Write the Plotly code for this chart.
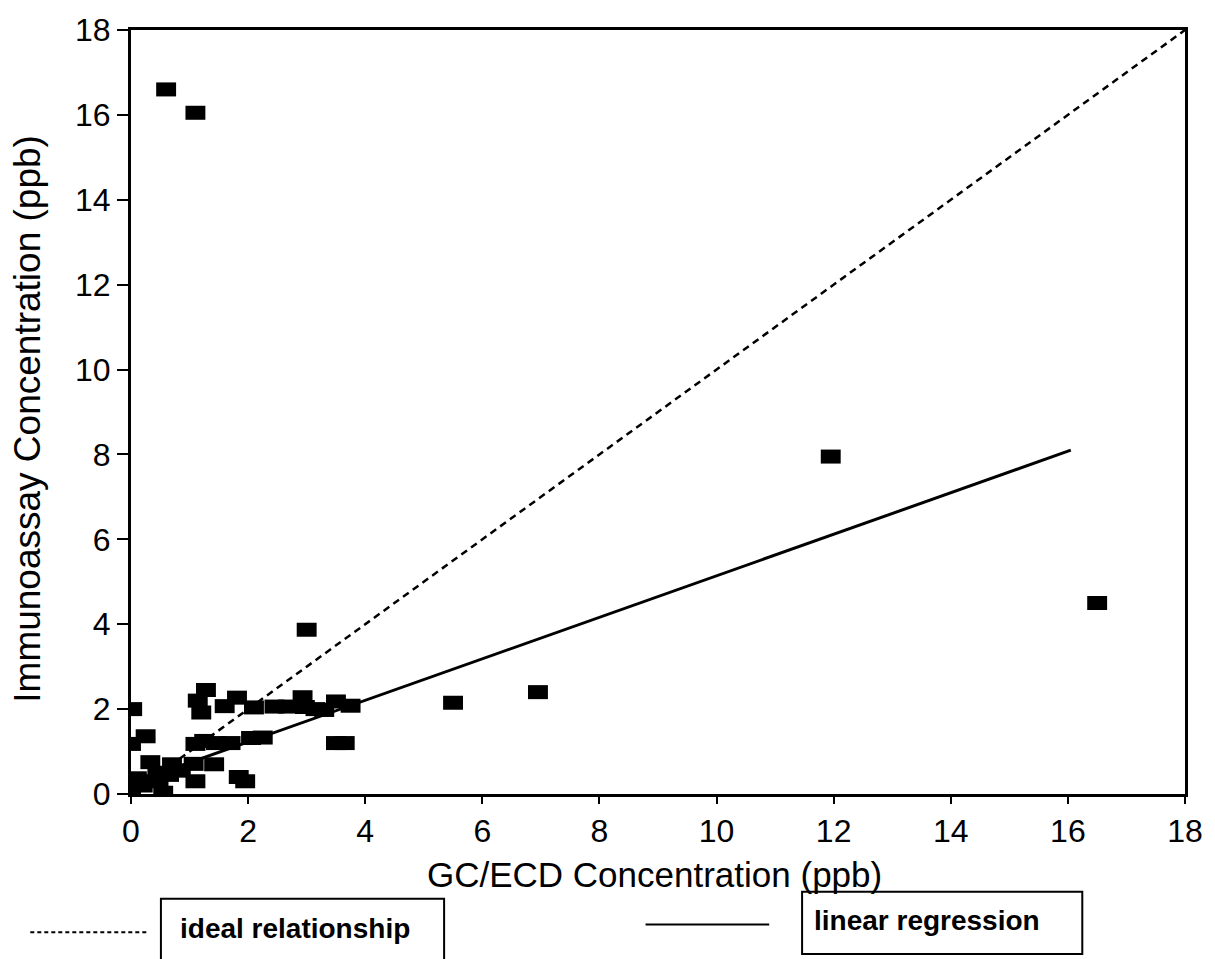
import plotly.graph_objects as go

# GC/ECD vs immunoassay concentrations (ppb)
gc_ecd = [0.02, 0.25, 0.0, 0.0, 0.1, 0.2, 0.3, 0.45, 0.55, 0.47, 0.65, 0.33, 0.7, 1.07, 1.42,
          0.85, 1.1, 1.84, 1.95, 1.1, 1.25, 1.45, 1.7, 2.05, 2.25, 1.28, 1.14, 1.2, 1.6, 1.81,
          2.1, 2.45, 2.68, 2.93, 2.97, 3.15, 3.3, 3.5, 3.75, 3.5, 3.65, 3.0, 5.5, 6.95, 11.95,
          16.5, 0.6, 1.1]
immuno = [2.0, 1.36, 1.18, 0.06, 0.37, 0.2, 0.3, 0.5, 0.03, 0.33, 0.45, 0.75, 0.7, 0.71, 0.7,
          0.55, 0.3, 0.4, 0.3, 1.18, 1.25, 1.2, 1.2, 1.32, 1.33, 2.45, 2.2, 1.92, 2.07, 2.27,
          2.04, 2.06, 2.06, 2.28, 2.05, 2.0, 1.98, 2.18, 2.08, 1.2, 1.2, 3.87, 2.15, 2.4, 7.95,
          4.5, 16.6, 16.05]

# reference lines
ideal_x = [0, 18]
ideal_y = [0, 18]
reg_x = [0.0, 16.05]
reg_y = [0.25, 8.1]

x_ticks = list(range(0, 19, 2))
y_ticks = list(range(0, 19, 2))

# marker half-size in data units (rectangular blocks)
HW = 0.17
HH = 0.165

FONT = "Liberation Sans, Arial, Helvetica, sans-serif"

W, H = 1215, 959
ML, MR, MT, MB = 131, 27, 21, 165
PW, PH = W - ML - MR, H - MT - MB


def px(x):
    return (x - ML) / PW


def py(y):
    return (H - MB - y) / PH


fig = go.Figure()
fig.add_trace(go.Scatter(x=ideal_x, y=ideal_y, mode="lines",
                         line=dict(color="black", width=2.5, dash="7px,5px"),
                         showlegend=False, hoverinfo="skip"))
fig.add_trace(go.Scatter(x=reg_x, y=reg_y, mode="lines",
                         line=dict(color="black", width=3),
                         showlegend=False, hoverinfo="skip"))
fig.add_trace(go.Scatter(x=gc_ecd, y=immuno, mode="markers",
                         marker=dict(color="rgba(0,0,0,0)", size=1),
                         showlegend=False))

shapes = []
for xv, yv in zip(gc_ecd, immuno):
    shapes.append(dict(type="rect", xref="x", yref="y",
                       x0=xv - HW, x1=xv + HW, y0=yv - HH, y1=yv + HH,
                       fillcolor="black", line=dict(width=0), layer="above"))

# legend drawn below the plot
shapes += [
    dict(type="line", xref="paper", yref="paper", x0=px(30), x1=px(148), y0=py(934), y1=py(934),
         line=dict(color="black", width=2, dash="4px,3px")),
    dict(type="rect", xref="paper", yref="paper", x0=px(161), x1=px(445), y0=py(975), y1=py(900),
         line=dict(color="black", width=2), fillcolor="white"),
    dict(type="line", xref="paper", yref="paper", x0=px(647), x1=px(771), y0=py(926), y1=py(926),
         line=dict(color="black", width=2)),
    dict(type="rect", xref="paper", yref="paper", x0=px(804), x1=px(1085), y0=py(956), y1=py(893),
         line=dict(color="black", width=2), fillcolor="white"),
]

annotations = [
    dict(text="<b>ideal relationship</b>", xref="paper", yref="paper", x=px(178), y=py(930),
         xanchor="left", yanchor="middle", showarrow=False,
         font=dict(family=FONT, size=28, color="black")),
    dict(text="<b>linear regression</b>", xref="paper", yref="paper", x=px(814), y=py(922),
         xanchor="left", yanchor="middle", showarrow=False,
         font=dict(family=FONT, size=28, color="black")),
    # axis titles
    dict(text="GC/ECD Concentration (ppb)", xref="paper", yref="paper", x=px(656), y=py(875),
         xanchor="center", yanchor="middle", showarrow=False,
         font=dict(family=FONT, size=35, color="black")),
    dict(text="Immunoassay Concentration (ppb)", xref="paper", yref="paper", x=px(27), y=py(414),
         xanchor="center", yanchor="middle", showarrow=False, textangle=-90,
         font=dict(family=FONT, size=37, color="black")),
]

axis_common = dict(
    showline=True, linecolor="black", linewidth=3, mirror=True,
    ticks="outside", tickwidth=2, tickcolor="black",
    showgrid=False, zeroline=False,
    tickfont=dict(family=FONT, size=32, color="black"),
)

fig.update_layout(
    width=W, height=H,
    margin=dict(l=ML, r=MR, t=MT, b=MB),
    paper_bgcolor="white", plot_bgcolor="white",
    shapes=shapes, annotations=annotations,
    xaxis=dict(range=[0, 18], tickvals=x_ticks, ticklen=7, **axis_common),
    yaxis=dict(range=[0, 18], tickvals=y_ticks, ticklen=11, **axis_common),
)

fig.write_html("out.html")
